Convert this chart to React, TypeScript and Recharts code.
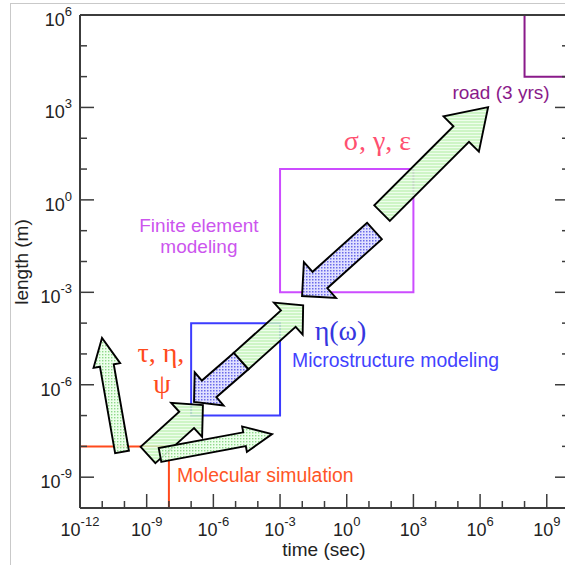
import React from "react";
import { ScatterChart, Scatter, XAxis, YAxis, ReferenceArea, ReferenceLine } from "recharts";

// decade exponents for the log axes
const xTickExps = [-12, -11, -10, -9, -8, -7, -6, -5, -4, -3, -2, -1, 0, 1, 2, 3, 4, 5, 6, 7, 8, 9, 10];
const xMajorExps = [-12, -9, -6, -3, 0, 3, 6, 9];
const yTickExps = [-10, -9, -8, -7, -6, -5, -4, -3, -2, -1, 0, 1, 2, 3, 4, 5, 6];
const yMajorExps = [-9, -6, -3, 0, 3, 6];

// modeling regions, as [from, to] exponents of time and length
const boxes = [
  { id: "road", time: [8, 11], length: [4, 7] },
  { id: "finite", time: [-3, 3], length: [-3, 1] },
  { id: "micro", time: [-7, -3], length: [-7, -4] },
];

// molecular simulation corner (time, length exponents)
const molecularCorner = { time: -8, length: -8 };

// arrows: tail -> tip, as [time exp, length exp]
const arrows = [
  { id: "up", from: [-10.11, -8.18], to: [-11.01, -4.48], fill: "greenDots" },
  { id: "diag", from: [-8.94, -8.28], to: [-6.47, -6.66], fill: "greenHatch" },
  { id: "right", from: [-8.4, -8.28], to: [-3.36, -7.6], fill: "greenDots" },
  { id: "microDown", from: [-4.75, -5.23], to: [-6.87, -6.56], fill: "blueDots" },
  { id: "microUp", from: [-4.75, -5.23], to: [-1.96, -3.42], fill: "greenHatch" },
  { id: "feDown", from: [1.25, -1.01], to: [-2.01, -3.12], fill: "blueDots" },
  { id: "feUp", from: [1.59, -0.43], to: [6.36, 3.01], fill: "greenHatch" },
];

// text annotations, anchored at [time exp, length exp]
const notes = [
  { kind: "road", text: "road (3 yrs)", at: [6.94, 3.27] },
  { kind: "sge", text: "σ, γ, ε", at: [1.38, 1.62] },
  { kind: "finite", text: "Finite element", at: [-6.65, -1.04] },
  { kind: "finite", text: "modeling", at: [-6.65, -1.72] },
  { kind: "eta", text: "η(ω)", at: [-0.28, -4.55] },
  { kind: "micro", text: "Microstructure modeling", at: [-2.46, -5.42] },
  { kind: "tau", text: "τ, η,", at: [-8.36, -5.26] },
  { kind: "tau", text: "ψ", at: [-8.31, -6.27] },
  { kind: "molecular", text: "Molecular simulation", at: [-7.64, -9.16] },
];

const SANS = "'Liberation Sans', Arial, Helvetica, sans-serif";
const SERIF = "'Liberation Serif', 'Times New Roman', serif";
const AXIS = "#3c3c3c";
const ORANGE = "#ff4a1c";

const boxColor: Record<string, string> = { road: "#8a1a8a", finite: "#cc4cff", micro: "#3c3cff" };

const arrowSize: Record<string, { w: number; hw: number; hl: number }> = {
  up: { w: 14, hw: 27, hl: 28 },
  diag: { w: 22, hw: 46, hl: 22 },
  right: { w: 14, hw: 26, hl: 28 },
  microDown: { w: 22, hw: 44, hl: 20 },
  microUp: { w: 22, hw: 43, hl: 20 },
  feDown: { w: 22, hw: 48, hl: 24 },
  feUp: { w: 22, hw: 50, hl: 38 },
};

const noteStyle: Record<string, { color: string; font: string; size: number; anchor: "start" | "middle" }> = {
  road: { color: "#8a1a8a", font: SANS, size: 19, anchor: "middle" },
  sge: { color: "#ff5070", font: SERIF, size: 28, anchor: "middle" },
  finite: { color: "#cc55ee", font: SANS, size: 19, anchor: "middle" },
  eta: { color: "#3636e0", font: SERIF, size: 28, anchor: "middle" },
  micro: { color: "#4242ff", font: SANS, size: 19.4, anchor: "start" },
  tau: { color: ORANGE, font: SERIF, size: 28, anchor: "middle" },
  molecular: { color: "#ff5526", font: SANS, size: 19.4, anchor: "start" },
};

const pow = (e: number) => Math.pow(10, e);
const xTicks = xTickExps.map(pow);
const yTicks = yTickExps.map(pow);
const noteData = notes.map((n) => ({ ...n, x: pow(n.at[0]), y: pow(n.at[1]) }));

const expOf = (v: number) => Math.round(Math.log10(v));

const Power = ({ x, y, e, anchor }: { x: number; y: number; e: number; anchor: "middle" | "end" }) => (
  <text x={x} y={y} textAnchor={anchor} fontFamily={SANS} fontSize={18} fill="#222">
    10
    <tspan dy={-10} fontSize={13}>
      {String(e)}
    </tspan>
  </text>
);

const BottomTick = (p: any) => {
  const e = expOf(p.payload.value);
  const major = xMajorExps.includes(e);
  return (
    <g>
      <line x1={p.x} x2={p.x} y1={p.y} y2={p.y - (major ? 14 : 7)} stroke={AXIS} strokeWidth={1.5} />
      {major && <Power x={p.x} y={p.y + 28} e={e} anchor="middle" />}
    </g>
  );
};

const TopTick = (p: any) => {
  const major = xMajorExps.includes(expOf(p.payload.value));
  return <line x1={p.x} x2={p.x} y1={p.y} y2={p.y + (major ? 14 : 7)} stroke={AXIS} strokeWidth={1.5} />;
};

const LeftTick = (p: any) => {
  const e = expOf(p.payload.value);
  const major = yMajorExps.includes(e);
  return (
    <g>
      <line x1={p.x} x2={p.x + (major ? 14 : 7)} y1={p.y} y2={p.y} stroke={AXIS} strokeWidth={1.5} />
      {major && <Power x={p.x - 8} y={p.y + 11} e={e} anchor="end" />}
    </g>
  );
};

const RightTick = (p: any) => {
  const major = yMajorExps.includes(expOf(p.payload.value));
  return <line x1={p.x} x2={p.x - (major ? 14 : 7)} y1={p.y} y2={p.y} stroke={AXIS} strokeWidth={1.5} />;
};

const arrowShape = (id: string, fill: string) => (p: any) => {
  const { w, hw, hl } = arrowSize[id];
  const dx = p.x2 - p.x1;
  const dy = p.y2 - p.y1;
  const len = Math.hypot(dx, dy);
  const ux = dx / len;
  const uy = dy / len;
  const nx = -uy;
  const ny = ux;
  const neckX = p.x2 - ux * hl;
  const neckY = p.y2 - uy * hl;
  const pts = [
    [p.x1 + (nx * w) / 2, p.y1 + (ny * w) / 2],
    [neckX + (nx * w) / 2, neckY + (ny * w) / 2],
    [neckX + (nx * hw) / 2, neckY + (ny * hw) / 2],
    [p.x2, p.y2],
    [neckX - (nx * hw) / 2, neckY - (ny * hw) / 2],
    [neckX - (nx * w) / 2, neckY - (ny * w) / 2],
    [p.x1 - (nx * w) / 2, p.y1 - (ny * w) / 2],
  ];
  return (
    <polygon
      points={pts.map((q) => q.join(",")).join(" ")}
      fill={`url(#${fill})`}
      stroke="#000"
      strokeWidth={1.9}
      strokeLinejoin="miter"
    />
  );
};

const NoteShape = (p: any) => {
  const s = noteStyle[p.payload.kind];
  return (
    <text x={p.cx} y={p.cy} textAnchor={s.anchor} fontFamily={s.font} fontSize={s.size} fill={s.color}>
      {p.payload.text}
    </text>
  );
};

const logAxis = {
  type: "number" as const,
  scale: "log" as const,
  allowDataOverflow: true,
  interval: 0,
  tickSize: 0,
  tickMargin: 0,
  axisLine: { stroke: AXIS, strokeWidth: 2 },
  tickLine: false,
};

export default function App() {
  return (
    <div style={{ position: "relative", width: 565, height: 565, overflow: "hidden", background: "#fff" }}>
      <style>{"body{margin:0;overflow:hidden}"}</style>
      <svg width={0} height={0} style={{ position: "absolute" }}>
        <defs>
          <pattern id="greenHatch" width={4} height={3} patternUnits="userSpaceOnUse">
            <rect width={4} height={3} fill="#c6f4bc" fillOpacity={0.85} />
            <rect width={4} height={1} fill="#f2fff0" fillOpacity={0.9} />
          </pattern>
          <pattern id="greenDots" width={3} height={3} patternUnits="userSpaceOnUse">
            <rect width={3} height={3} fill="#ecffea" fillOpacity={0.9} />
            <rect width={1.4} height={1.4} fill="#8fd88a" />
          </pattern>
          <pattern id="blueDots" width={3} height={3} patternUnits="userSpaceOnUse">
            <rect width={3} height={3} fill="#dedeff" fillOpacity={0.9} />
            <rect width={1.5} height={1.5} fill="#6a6ae8" />
          </pattern>
        </defs>
      </svg>
      <div
        style={{
          position: "absolute",
          left: 10,
          top: 3,
          width: 600,
          height: 600,
          borderLeft: "1px solid #c9c9c9",
          borderTop: "1px solid #c9c9c9",
        }}
      />
      <div style={{ position: "absolute", left: 0, top: 0 }}>
        <ScatterChart width={600} height={565} margin={{ top: 0, right: 0, bottom: 0, left: 0 }}>
          <XAxis {...logAxis} xAxisId={0} dataKey="x" domain={[1e-12, 1e10]} ticks={xTicks} height={57} tick={BottomTick} />
          <XAxis {...logAxis} xAxisId="top" orientation="top" domain={[1e-12, 1e10]} ticks={xTicks} height={15} tick={TopTick} />
          <YAxis {...logAxis} yAxisId={0} dataKey="y" domain={[1e-10, 1e6]} ticks={yTicks} width={80} tick={LeftTick} />
          <YAxis {...logAxis} yAxisId="right" orientation="right" domain={[1e-10, 1e6]} ticks={yTicks} width={31} tick={RightTick} />

          <ReferenceLine
            segment={[
              { x: 1e-12, y: pow(molecularCorner.length) },
              { x: pow(molecularCorner.time), y: pow(molecularCorner.length) },
            ]}
            stroke={ORANGE}
            strokeWidth={2}
            ifOverflow="visible"
          />
          <ReferenceLine
            segment={[
              { x: pow(molecularCorner.time), y: pow(molecularCorner.length) },
              { x: pow(molecularCorner.time), y: 1e-10 },
            ]}
            stroke={ORANGE}
            strokeWidth={2}
            ifOverflow="visible"
          />

          {boxes.map((b) => (
            <ReferenceArea
              key={b.id}
              x1={pow(b.time[0])}
              x2={pow(b.time[1])}
              y1={pow(b.length[0])}
              y2={pow(b.length[1])}
              fill="none"
              stroke={boxColor[b.id]}
              strokeWidth={2}
              ifOverflow="hidden"
            />
          ))}

          {arrows.map((a) => (
            <ReferenceLine
              key={a.id}
              segment={[
                { x: pow(a.from[0]), y: pow(a.from[1]) },
                { x: pow(a.to[0]), y: pow(a.to[1]) },
              ]}
              ifOverflow="visible"
              shape={arrowShape(a.id, a.fill)}
            />
          ))}

          <Scatter data={noteData} isAnimationActive={false} shape={NoteShape} />
        </ScatterChart>
      </div>
      <svg width={565} height={565} style={{ position: "absolute", left: 0, top: 0, pointerEvents: "none" }}>
        <text x={324} y={556} textAnchor="middle" fontFamily={SANS} fontSize={19} fill="#222">
          time (sec)
        </text>
        <text
          x={0}
          y={0}
          transform="translate(28 262) rotate(-90)"
          textAnchor="middle"
          fontFamily={SANS}
          fontSize={19}
          fill="#222"
        >
          length (m)
        </text>
      </svg>
    </div>
  );
}
